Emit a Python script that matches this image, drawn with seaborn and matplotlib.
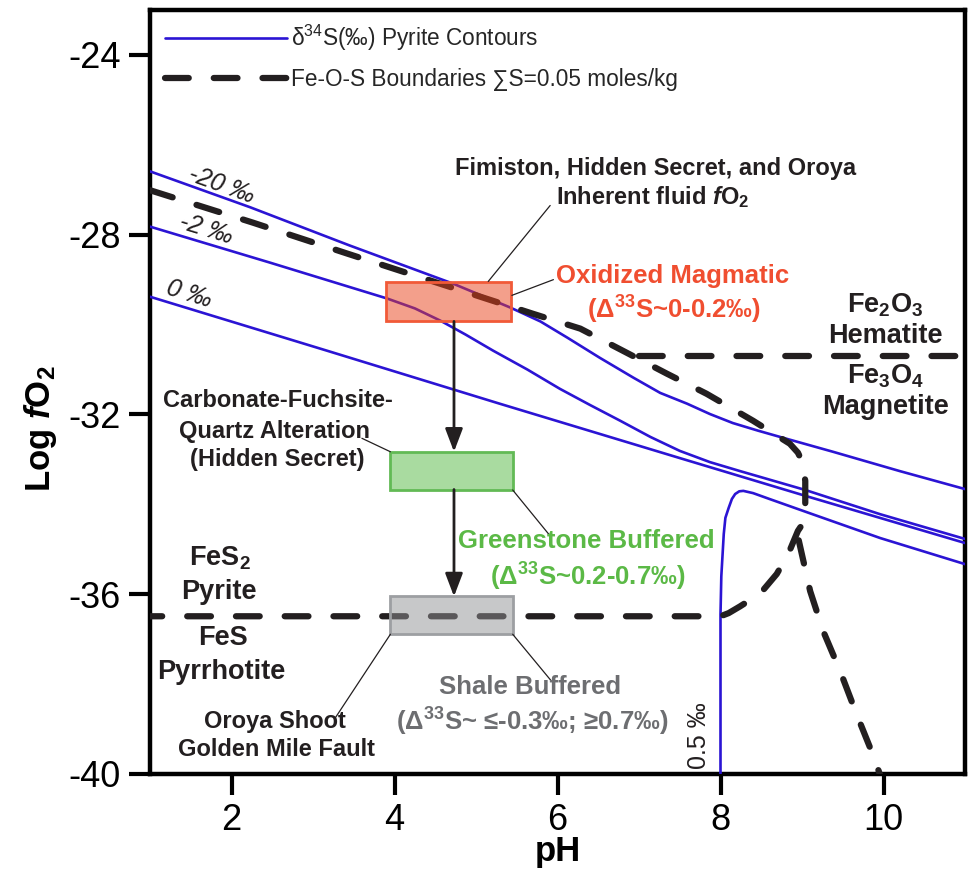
import matplotlib
matplotlib.use("Agg")
import matplotlib.pyplot as plt
import seaborn as sns
import pandas as pd
from matplotlib.patches import Rectangle
from matplotlib.lines import Line2D

# ---------------------------------------------------------------- data
# pyrite d34S contours (pH, log fO2)
c20_ph = [1.00, 2.23, 3.45, 4.72, 5.42, 5.79, 6.12, 6.52, 6.93, 7.26, 7.59, 7.87,
          8.15, 8.46, 8.77, 9.38, 10.20, 11.00]
c20_fo2 = [-26.59, -27.39, -28.24, -29.09, -29.62, -29.93, -30.29, -30.74, -31.18,
           -31.52, -31.76, -31.99, -32.19, -32.36, -32.52, -32.83, -33.26, -33.66]

c2_ph = [1.00, 2.47, 3.91, 4.25, 4.56, 4.87, 5.21, 5.63, 6.03, 6.40, 6.77, 7.14,
         7.50, 7.87, 8.24, 9.04, 9.96, 11.00]
c2_fo2 = [-27.82, -28.62, -29.42, -29.64, -29.91, -30.22, -30.58, -31.00, -31.43,
          -31.79, -32.14, -32.50, -32.81, -33.06, -33.26, -33.68, -34.22, -34.77]

c0_ph = [1.00, 3.17, 5.29, 7.50, 9.04, 11.00]
c0_fo2 = [-29.38, -30.58, -31.76, -32.97, -33.81, -34.86]

c05_ph = [8.00, 8.00, 8.01, 8.04, 8.06, 8.10, 8.14, 8.18, 8.23, 8.28, 8.40, 8.60,
          9.13, 9.96, 11.00]
c05_fo2 = [-40.0, -36.45, -35.60, -34.66, -34.30, -34.08, -33.88, -33.77, -33.71,
           -33.70, -33.75, -33.88, -34.22, -34.75, -35.33]

# Fe-O-S stability boundaries
pyrite_ph = [1.00, 2.26, 3.42, 4.56, 5.70, 6.28, 6.80, 7.34, 7.83, 8.40, 8.85, 8.95,
             9.01, 9.04, 9.04, 9.02, 8.95, 8.83, 8.69, 8.49, 8.24, 8.10, 8.00, 1.00]
pyrite_fo2 = [-27.01, -27.73, -28.42, -29.09, -29.76, -30.09, -30.58, -31.09, -31.54,
              -32.14, -32.65, -32.85, -33.08, -33.48, -34.15, -34.40, -34.59, -35.11,
              -35.55, -35.98, -36.27, -36.42, -36.49, -36.49]

hem_mag_ph = [7.00, 11.00]
hem_mag_fo2 = [-30.69, -30.69]

po_mag_ph = [8.96, 9.10, 9.26, 9.47, 9.67, 9.87, 9.96]
po_mag_fo2 = [-34.80, -35.93, -36.82, -37.72, -38.67, -39.57, -40.03]

# fluid fO2 fields
box_ph_lo = [3.90, 3.95, 3.95]
box_ph_hi = [5.43, 5.45, 5.45]
box_fo2_lo = [-29.93, -33.67, -36.89]
box_fo2_hi = [-29.06, -32.83, -36.05]
arrow_ph = 4.73

x_ticks = [2, 4, 6, 8, 10]
y_ticks = [-40, -36, -32, -28, -24]

# ---------------------------------------------------------------- style
sns.set_theme(style="white")
plt.rcParams["font.family"] = ["Liberation Sans", "DejaVu Sans"]
plt.rcParams["axes.unicode_minus"] = False
plt.rcParams["mathtext.fontset"] = "custom"
plt.rcParams["mathtext.rm"] = "Liberation Sans"
plt.rcParams["mathtext.bf"] = "Liberation Sans:bold"
plt.rcParams["mathtext.it"] = "Liberation Sans:italic:bold"

INK = "#231F20"
BLUE = "#2B14D4"
RED_T = "#F04E30"
GREEN_T = "#5BB946"
GREY_T = "#6D6E71"

fig = plt.figure(figsize=(9.68, 8.72), dpi=100)
ax = fig.add_axes([150 / 968, 98 / 872, 815 / 968, 764 / 872])
ax.set_facecolor("white")


def curve(xs, ys, **kw):
    df = pd.DataFrame({"pH": xs, "fO2": ys})
    sns.lineplot(data=df, x="pH", y="fO2", sort=False, estimator=None, ax=ax,
                 legend=False, **kw)
    return ax.lines[-1]


DASH = (3.8, 4.0)
DLW = 4.5

for xs, ys in [(c20_ph, c20_fo2), (c2_ph, c2_fo2), (c0_ph, c0_fo2), (c05_ph, c05_fo2)]:
    ln = curve(xs, ys, color=BLUE, lw=1.9, zorder=3)
    ln.set_solid_joinstyle("round")

for xs, ys in [(pyrite_ph, pyrite_fo2), (hem_mag_ph, hem_mag_fo2), (po_mag_ph, po_mag_fo2)]:
    ln = curve(xs, ys, color=INK, lw=DLW, zorder=3)
    ln.set_dashes(DASH)
    ln.set_dash_capstyle("round")
    ln.set_dash_joinstyle("round")

# fluid fields
face = [(0.914, 0.255, 0.098, 0.5), "#A9DBA0", (0.568, 0.572, 0.58, 0.5)]
edge = ["#F15A38", "#62BA55", "#9D9FA2"]
for i in range(3):
    ax.add_patch(Rectangle((box_ph_lo[i], box_fo2_lo[i]),
                           box_ph_hi[i] - box_ph_lo[i], box_fo2_hi[i] - box_fo2_lo[i],
                           facecolor=face[i], edgecolor=edge[i], lw=2.0, zorder=4))

# arrows between fields
for start, end in [(box_fo2_lo[0], box_fo2_hi[1]), (box_fo2_lo[1], box_fo2_hi[2])]:
    ax.annotate("", xy=(arrow_ph, end), xytext=(arrow_ph, start),
                arrowprops=dict(arrowstyle="-|>,head_length=1.0,head_width=0.38",
                                color=INK, lw=2.0, shrinkA=0, shrinkB=0,
                                mutation_scale=14), zorder=5)

# leader lines
leaders = [((5.15, -29.04), (5.91, -27.35)),
           ((5.44, -29.35), (5.95, -29.00)),
           ((3.60, -32.53), (3.95, -32.83)),
           ((5.45, -33.68), (5.90, -34.68)),
           ((3.95, -36.89), (3.27, -38.76)),
           ((5.45, -36.89), (5.92, -37.92))]
for (x0, y0), (x1, y1) in leaders:
    ax.plot([x0, x1], [y0, y1], color=INK, lw=0.9, zorder=5)

# ---------------------------------------------------------------- labels
def lab(x, y, s, size=17, color=INK, weight="bold", **kw):
    ax.text(x, y, s, fontsize=size, color=color, fontweight=weight,
            ha=kw.pop("ha", "center"), va=kw.pop("va", "center"), zorder=6, **kw)

lab(7.20, -26.52, "Fimiston, Hidden Secret, and Oroya")
lab(7.17, -27.17, "Inherent fluid $f$O$_\\mathbf{2}$")

lab(7.41, -28.91, "Oxidized Magmatic", size=18.5, color=RED_T)
lab(7.43, -29.67, "(Δ$^\\mathbf{33}$S~0-0.2‰)", size=18.5, color=RED_T)

lab(10.02, -29.56, "Fe$_\\mathbf{2}$O$_\\mathbf{3}$", size=19.5)
lab(10.02, -30.25, "Hematite", size=19.5)
lab(10.02, -31.14, "Fe$_\\mathbf{3}$O$_\\mathbf{4}$", size=19.5)
lab(10.03, -31.83, "Magnetite", size=19.5)

lab(2.57, -31.70, "Carbonate-Fuchsite-")
lab(2.53, -32.39, "Quartz Alteration")
lab(2.56, -33.01, "(Hidden Secret)")

lab(1.86, -35.20, "FeS$_\\mathbf{2}$", size=19.5)
lab(1.85, -35.95, "Pyrite", size=19.5)
lab(1.90, -36.98, "FeS", size=19.5)
lab(1.88, -37.72, "Pyrrhotite", size=19.5)

lab(6.35, -34.82, "Greenstone Buffered", size=18.5, color=GREEN_T)
lab(6.37, -35.62, "(Δ$^\\mathbf{33}$S~0.2-0.7‰)", size=18.5, color=GREEN_T)

lab(5.66, -38.07, "Shale Buffered", size=18.5, color=GREY_T)
lab(5.69, -38.85, "(Δ$^\\mathbf{33}$S~ ≤-0.3‰; ≥0.7‰)", size=18.5, color=GREY_T)

lab(2.53, -38.83, "Oroya Shoot")
lab(2.55, -39.45, "Golden Mile Fault")

# contour values
lab(1.88, -26.90, "-20 ‰", size=18, weight="normal", style="italic", rotation=-20,
    rotation_mode="anchor")
lab(1.69, -27.88, "-2 ‰", size=18, weight="normal", style="italic", rotation=-17,
    rotation_mode="anchor")
lab(1.48, -29.33, "0 ‰", size=18, weight="normal", style="italic", rotation=-17,
    rotation_mode="anchor")
lab(7.74, -39.14, "0.5 ‰", size=18, weight="normal", rotation=90)

# ---------------------------------------------------------------- legend
handles = [Line2D([], [], color=BLUE, lw=1.9),
           Line2D([], [], color=INK, lw=DLW, dashes=DASH, dash_capstyle="round")]
ax.legend(handles, ["δ$^{\\mathrm{34}}$S(‰) Pyrite Contours",
                    "Fe-O-S Boundaries ∑S=0.05 moles/kg"],
          loc="upper left", bbox_to_anchor=(0.0184, 0.983), frameon=False,
          fontsize=16.3, handlelength=5.4, handletextpad=0.15, labelspacing=0.64,
          borderpad=0, borderaxespad=0)

# ---------------------------------------------------------------- axes
ax.set_xlim(1, 11)
ax.set_ylim(-40, -23)
ax.set_xticks(x_ticks)
ax.set_yticks(y_ticks)
ax.tick_params(axis="both", which="major", direction="out", length=15, width=3,
               color="black", labelsize=26, pad=6, labelcolor="black",
               bottom=True, left=True, top=False, right=False)
for s in ax.spines.values():
    s.set_visible(True)
    s.set_linewidth(3.2)
    s.set_color("black")
ax.grid(False)

ax.set_xlabel("pH", fontsize=25, fontweight="bold", color="black")
ax.set_ylabel("Log $f$O$_\\mathbf{2}$", fontsize=25, fontweight="bold", color="black")
ax.xaxis.set_label_coords(0.5, -0.102)
ax.yaxis.set_label_coords(-0.134, 0.452)
ax.xaxis.label.set_va("center")
ax.yaxis.label.set_va("center")

fig.savefig("out.png", dpi=100)
